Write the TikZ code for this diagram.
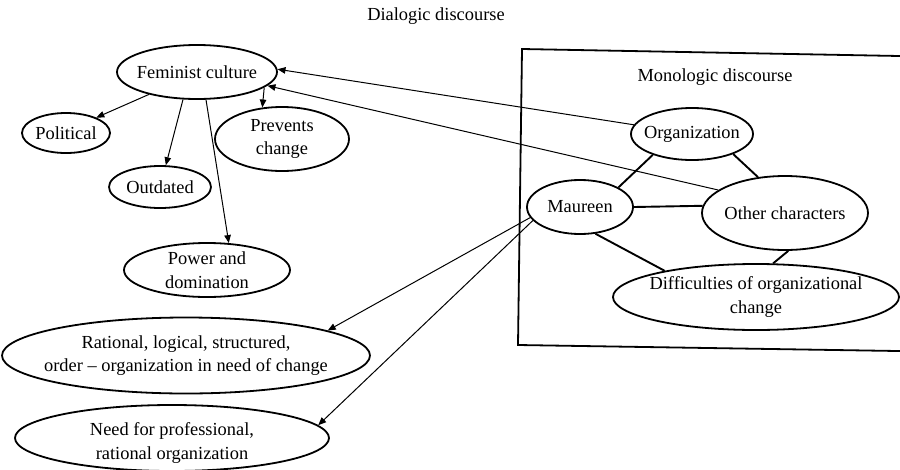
\documentclass[tikz,border=0pt]{standalone}
\usepackage{fontspec}
\setmainfont{Liberation Serif}
\usetikzlibrary{shapes.geometric,arrows.meta}
\begin{document}
\begin{tikzpicture}[x=1pt,y=-1pt,
  every node/.style={font=\fontsize{18.4}{23.5}\selectfont},
  ell/.style 2 args={ellipse, draw, line width=1.8pt, minimum width=#1, minimum height=#2, inner sep=0pt},
  txt/.style={align=center},
  arr/.style={line width=1pt, -{Triangle[length=8pt,width=6.5pt]}},
  link/.style={line width=1.9pt},
  boxline/.style={line width=1.8pt},
]
\useasboundingbox (0,0) rectangle (900,469);
\clip (0,0) rectangle (900,469);

\node (dtitle) at (436,16) {Dialogic discourse};
\draw[boxline] (910,56.2) -- (522,49) -- (518,345) -- (910,351.2);
\node (mtitle) at (715,77) {Monologic discourse};

\node[ell={160pt}{54pt}, label={[txt]center:Feminist culture}] (fem) at (197,72) {};
\node[ell={88pt}{40pt}, label={[txt]center:Political}] (pol) at (66,133) {};
\node[ell={102pt}{42pt}, label={[txt]center:Outdated}] (outd) at (160,187) {};
\node[ell={134pt}{64pt}, label={[txt]center:Prevents\\change}] (prev) at (282,139) {};
\node[ell={166pt}{54pt}, label={[txt]center:Power and\\domination}] (pow) at (207,270) {};
\node[ell={368pt}{76pt}, label={[txt]center:Rational, logical, structured,\\order -- organization in need of change}] (rat) at (186,355.5) {};
\node[ell={314pt}{66pt}, label={[txt,yshift=-5pt]center:Need for professional,\\rational organization}] (need) at (172,438) {};

\node[ell={122pt}{52pt}, label={[txt]center:Organization}] (org) at (692,134) {};
\node[ell={106pt}{54pt}, label={[txt]center:Maureen}] (maur) at (580,207) {};
\node[ell={166pt}{74pt}, label={[txt]center:Other characters}] (oth) at (785,213) {};
\node[ell={286pt}{66pt}, label={[txt]center:Difficulties of organizational\\change}] (diff) at (756,297) {};

% feminist culture arrows
\draw[arr] (fem.205) -- (pol.27);
\draw[arr] (fem.243) -- (outd.75);
\draw[arr] (fem.288) -- (pow.51);
\draw[arr] (fem.347) -- (prev.122);

% monologic to feminist
\draw[arr] (org.171) -- (fem.2);
\draw[arr] (oth.161) -- (fem.349);

% links inside box
\draw[link] (org.208) -- (maur.27);
\draw[link] (org.334) -- (oth.127);
\draw[link] (maur.0) -- (oth.175);
\draw[link] (maur.300) -- (diff.164);
\draw[link] (oth.275) -- (diff.63);

% Maureen arrows
\draw[arr] (maur.192) -- (rat.10);
\draw[arr] (maur.196) -- (need.5);
\end{tikzpicture}
\end{document}
